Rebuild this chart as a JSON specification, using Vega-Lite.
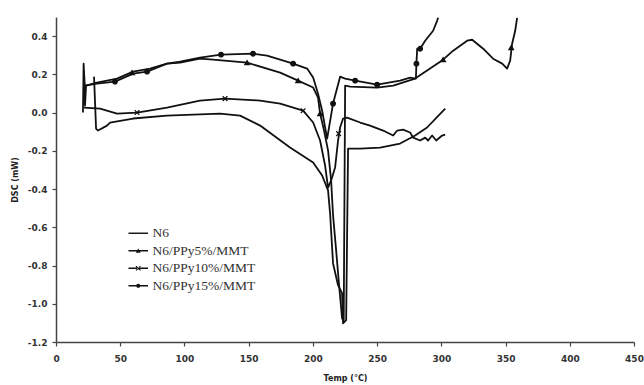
{
  "$schema": "https://vega.github.io/schema/vega-lite/v6.json",
  "width": 578,
  "height": 325,
  "autosize": "none",
  "padding": {"left": 56, "top": 17, "right": 10, "bottom": 43},
  "background": "white",
  "config": {"view": {"stroke": null}},
  "datasets": {
    "curves": [
      {"series": "N6", "T": 29.6, "V": 0.188},
      {"series": "N6", "T": 31.2, "V": -0.084},
      {"series": "N6", "T": 32.7, "V": -0.094},
      {"series": "N6", "T": 39.7, "V": -0.068},
      {"series": "N6", "T": 42.1, "V": -0.052},
      {"series": "N6", "T": 60.0, "V": -0.031},
      {"series": "N6", "T": 86.4, "V": -0.016},
      {"series": "N6", "T": 127.7, "V": -0.005},
      {"series": "N6", "T": 143.3, "V": -0.016},
      {"series": "N6", "T": 158.9, "V": -0.068},
      {"series": "N6", "T": 182.2, "V": -0.183},
      {"series": "N6", "T": 200.2, "V": -0.261},
      {"series": "N6", "T": 207.2, "V": -0.329},
      {"series": "N6", "T": 211.8, "V": -0.407},
      {"series": "N6", "T": 213.4, "V": -0.528},
      {"series": "N6", "T": 215.7, "V": -0.789},
      {"series": "N6", "T": 219.6, "V": -0.903},
      {"series": "N6", "T": 222.7, "V": -0.945},
      {"series": "N6", "T": 223.5, "V": -1.102},
      {"series": "N6", "T": 225.9, "V": -1.086},
      {"series": "N6", "T": 227.4, "V": -0.188},
      {"series": "N6", "T": 236.8, "V": -0.188},
      {"series": "N6", "T": 252.3, "V": -0.183},
      {"series": "N6", "T": 267.9, "V": -0.162},
      {"series": "N6", "T": 279.6, "V": -0.120},
      {"series": "N6", "T": 288.9, "V": -0.078},
      {"series": "N6", "T": 303.0, "V": 0.021},

      {"series": "N6/PPy5%/MMT", "T": 21.8, "V": 0.219},
      {"series": "N6/PPy5%/MMT", "T": 22.6, "V": 0.037},
      {"series": "N6/PPy5%/MMT", "T": 23.4, "V": 0.141},
      {"series": "N6/PPy5%/MMT", "T": 31.9, "V": 0.157},
      {"series": "N6/PPy5%/MMT", "T": 47.5, "V": 0.178},
      {"series": "N6/PPy5%/MMT", "T": 60.0, "V": 0.214},
      {"series": "N6/PPy5%/MMT", "T": 73.2, "V": 0.230},
      {"series": "N6/PPy5%/MMT", "T": 86.4, "V": 0.256},
      {"series": "N6/PPy5%/MMT", "T": 96.6, "V": 0.261},
      {"series": "N6/PPy5%/MMT", "T": 112.1, "V": 0.282},
      {"series": "N6/PPy5%/MMT", "T": 122.3, "V": 0.277},
      {"series": "N6/PPy5%/MMT", "T": 148.8, "V": 0.261},
      {"series": "N6/PPy5%/MMT", "T": 174.5, "V": 0.209},
      {"series": "N6/PPy5%/MMT", "T": 188.5, "V": 0.167},
      {"series": "N6/PPy5%/MMT", "T": 200.2, "V": 0.131},
      {"series": "N6/PPy5%/MMT", "T": 204.0, "V": 0.078},
      {"series": "N6/PPy5%/MMT", "T": 205.6, "V": -0.005},
      {"series": "N6/PPy5%/MMT", "T": 208.7, "V": -0.094},
      {"series": "N6/PPy5%/MMT", "T": 211.8, "V": -0.198},
      {"series": "N6/PPy5%/MMT", "T": 214.2, "V": -0.355},
      {"series": "N6/PPy5%/MMT", "T": 215.7, "V": -0.538},
      {"series": "N6/PPy5%/MMT", "T": 218.1, "V": -0.721},
      {"series": "N6/PPy5%/MMT", "T": 220.4, "V": -0.903},
      {"series": "N6/PPy5%/MMT", "T": 222.7, "V": -1.076},
      {"series": "N6/PPy5%/MMT", "T": 224.0, "V": -1.090},
      {"series": "N6/PPy5%/MMT", "T": 225.1, "V": 0.141},
      {"series": "N6/PPy5%/MMT", "T": 229.0, "V": 0.136},
      {"series": "N6/PPy5%/MMT", "T": 250.0, "V": 0.131},
      {"series": "N6/PPy5%/MMT", "T": 262.5, "V": 0.141},
      {"series": "N6/PPy5%/MMT", "T": 279.6, "V": 0.178},
      {"series": "N6/PPy5%/MMT", "T": 301.4, "V": 0.277},
      {"series": "N6/PPy5%/MMT", "T": 309.2, "V": 0.324},
      {"series": "N6/PPy5%/MMT", "T": 320.1, "V": 0.376},
      {"series": "N6/PPy5%/MMT", "T": 324.0, "V": 0.381},
      {"series": "N6/PPy5%/MMT", "T": 332.6, "V": 0.334},
      {"series": "N6/PPy5%/MMT", "T": 340.3, "V": 0.282},
      {"series": "N6/PPy5%/MMT", "T": 347.4, "V": 0.256},
      {"series": "N6/PPy5%/MMT", "T": 351.2, "V": 0.230},
      {"series": "N6/PPy5%/MMT", "T": 353.6, "V": 0.272},
      {"series": "N6/PPy5%/MMT", "T": 355.1, "V": 0.360},
      {"series": "N6/PPy5%/MMT", "T": 357.5, "V": 0.428},
      {"series": "N6/PPy5%/MMT", "T": 359.0, "V": 0.496},

      {"series": "N6/PPy10%/MMT", "T": 21.8, "V": 0.026},
      {"series": "N6/PPy10%/MMT", "T": 34.3, "V": 0.021},
      {"series": "N6/PPy10%/MMT", "T": 47.5, "V": -0.005},
      {"series": "N6/PPy10%/MMT", "T": 63.1, "V": 0.0},
      {"series": "N6/PPy10%/MMT", "T": 86.4, "V": 0.026},
      {"series": "N6/PPy10%/MMT", "T": 112.1, "V": 0.063},
      {"series": "N6/PPy10%/MMT", "T": 131.6, "V": 0.073},
      {"series": "N6/PPy10%/MMT", "T": 158.9, "V": 0.063},
      {"series": "N6/PPy10%/MMT", "T": 174.5, "V": 0.047},
      {"series": "N6/PPy10%/MMT", "T": 192.4, "V": 0.010},
      {"series": "N6/PPy10%/MMT", "T": 200.2, "V": -0.052},
      {"series": "N6/PPy10%/MMT", "T": 205.6, "V": -0.146},
      {"series": "N6/PPy10%/MMT", "T": 209.5, "V": -0.277},
      {"series": "N6/PPy10%/MMT", "T": 211.8, "V": -0.392},
      {"series": "N6/PPy10%/MMT", "T": 214.2, "V": -0.355},
      {"series": "N6/PPy10%/MMT", "T": 217.3, "V": -0.287},
      {"series": "N6/PPy10%/MMT", "T": 219.6, "V": -0.146},
      {"series": "N6/PPy10%/MMT", "T": 221.2, "V": -0.078},
      {"series": "N6/PPy10%/MMT", "T": 223.5, "V": -0.031},
      {"series": "N6/PPy10%/MMT", "T": 226.6, "V": -0.026},
      {"series": "N6/PPy10%/MMT", "T": 236.8, "V": -0.052},
      {"series": "N6/PPy10%/MMT", "T": 244.5, "V": -0.068},
      {"series": "N6/PPy10%/MMT", "T": 254.7, "V": -0.094},
      {"series": "N6/PPy10%/MMT", "T": 262.5, "V": -0.120},
      {"series": "N6/PPy10%/MMT", "T": 265.6, "V": -0.094},
      {"series": "N6/PPy10%/MMT", "T": 270.2, "V": -0.089},
      {"series": "N6/PPy10%/MMT", "T": 275.7, "V": -0.104},
      {"series": "N6/PPy10%/MMT", "T": 278.0, "V": -0.131},
      {"series": "N6/PPy10%/MMT", "T": 283.5, "V": -0.146},
      {"series": "N6/PPy10%/MMT", "T": 287.4, "V": -0.131},
      {"series": "N6/PPy10%/MMT", "T": 289.7, "V": -0.146},
      {"series": "N6/PPy10%/MMT", "T": 292.8, "V": -0.120},
      {"series": "N6/PPy10%/MMT", "T": 296.0, "V": -0.146},
      {"series": "N6/PPy10%/MMT", "T": 300.6, "V": -0.120},
      {"series": "N6/PPy10%/MMT", "T": 303.0, "V": -0.115},

      {"series": "N6/PPy15%/MMT", "T": 21.0, "V": 0.0},
      {"series": "N6/PPy15%/MMT", "T": 21.5, "V": 0.256},
      {"series": "N6/PPy15%/MMT", "T": 22.3, "V": 0.141},
      {"series": "N6/PPy15%/MMT", "T": 31.9, "V": 0.151},
      {"series": "N6/PPy15%/MMT", "T": 45.9, "V": 0.162},
      {"series": "N6/PPy15%/MMT", "T": 60.0, "V": 0.204},
      {"series": "N6/PPy15%/MMT", "T": 70.9, "V": 0.214},
      {"series": "N6/PPy15%/MMT", "T": 86.4, "V": 0.256},
      {"series": "N6/PPy15%/MMT", "T": 96.6, "V": 0.266},
      {"series": "N6/PPy15%/MMT", "T": 112.1, "V": 0.287},
      {"series": "N6/PPy15%/MMT", "T": 128.5, "V": 0.303},
      {"series": "N6/PPy15%/MMT", "T": 153.4, "V": 0.308},
      {"series": "N6/PPy15%/MMT", "T": 164.3, "V": 0.298},
      {"series": "N6/PPy15%/MMT", "T": 174.5, "V": 0.277},
      {"series": "N6/PPy15%/MMT", "T": 184.6, "V": 0.256},
      {"series": "N6/PPy15%/MMT", "T": 195.5, "V": 0.230},
      {"series": "N6/PPy15%/MMT", "T": 200.2, "V": 0.183},
      {"series": "N6/PPy15%/MMT", "T": 204.0, "V": 0.099},
      {"series": "N6/PPy15%/MMT", "T": 207.2, "V": 0.010},
      {"series": "N6/PPy15%/MMT", "T": 211.1, "V": -0.136},
      {"series": "N6/PPy15%/MMT", "T": 215.7, "V": 0.047},
      {"series": "N6/PPy15%/MMT", "T": 221.2, "V": 0.188},
      {"series": "N6/PPy15%/MMT", "T": 225.1, "V": 0.178},
      {"series": "N6/PPy15%/MMT", "T": 232.9, "V": 0.167},
      {"series": "N6/PPy15%/MMT", "T": 250.0, "V": 0.146},
      {"series": "N6/PPy15%/MMT", "T": 267.9, "V": 0.167},
      {"series": "N6/PPy15%/MMT", "T": 275.7, "V": 0.183},
      {"series": "N6/PPy15%/MMT", "T": 280.2, "V": 0.178},
      {"series": "N6/PPy15%/MMT", "T": 280.6, "V": 0.256},
      {"series": "N6/PPy15%/MMT", "T": 281.2, "V": 0.334},
      {"series": "N6/PPy15%/MMT", "T": 283.5, "V": 0.334},
      {"series": "N6/PPy15%/MMT", "T": 287.4, "V": 0.376},
      {"series": "N6/PPy15%/MMT", "T": 293.6, "V": 0.428},
      {"series": "N6/PPy15%/MMT", "T": 296.7, "V": 0.480},
      {"series": "N6/PPy15%/MMT", "T": 297.5, "V": 0.496}
    ],
    "markers": [
      {"series": "N6/PPy5%/MMT", "T": 59.2, "V": 0.209},
      {"series": "N6/PPy5%/MMT", "T": 148.8, "V": 0.261},
      {"series": "N6/PPy5%/MMT", "T": 188.5, "V": 0.167},
      {"series": "N6/PPy5%/MMT", "T": 205.6, "V": -0.005},
      {"series": "N6/PPy5%/MMT", "T": 301.4, "V": 0.277},
      {"series": "N6/PPy5%/MMT", "T": 354.4, "V": 0.340},
      {"series": "N6/PPy10%/MMT", "T": 63.1, "V": 0.0},
      {"series": "N6/PPy10%/MMT", "T": 131.6, "V": 0.073},
      {"series": "N6/PPy10%/MMT", "T": 192.4, "V": 0.010},
      {"series": "N6/PPy10%/MMT", "T": 220.0, "V": -0.110},
      {"series": "N6/PPy15%/MMT", "T": 45.9, "V": 0.162},
      {"series": "N6/PPy15%/MMT", "T": 70.9, "V": 0.214},
      {"series": "N6/PPy15%/MMT", "T": 128.5, "V": 0.303},
      {"series": "N6/PPy15%/MMT", "T": 153.4, "V": 0.308},
      {"series": "N6/PPy15%/MMT", "T": 184.6, "V": 0.256},
      {"series": "N6/PPy15%/MMT", "T": 215.7, "V": 0.047},
      {"series": "N6/PPy15%/MMT", "T": 232.9, "V": 0.167},
      {"series": "N6/PPy15%/MMT", "T": 250.0, "V": 0.146},
      {"series": "N6/PPy15%/MMT", "T": 280.6, "V": 0.256},
      {"series": "N6/PPy15%/MMT", "T": 283.5, "V": 0.334}
    ]
  },
  "encoding": {
    "x": {
      "field": "T", "type": "quantitative",
      "scale": {"domain": [0, 450], "nice": false, "zero": false},
      "axis": {
        "title": "Temp (°C)",
        "values": [0, 50, 100, 150, 200, 250, 300, 350, 400, 450],
        "grid": false, "tickSize": 4, "labelPadding": 8,
        "labelFont": "DejaVu Sans", "labelFontWeight": "bold", "labelFontSize": 9, "labelColor": "#333",
        "titleFont": "DejaVu Sans", "titleFontWeight": "bold", "titleFontSize": 8, "titleColor": "#222", "titlePadding": 11,
        "domainColor": "#444", "domainWidth": 1.5, "tickColor": "#444", "tickWidth": 1.2,
        "labelOverlap": false, "labelFlush": false
      }
    },
    "y": {
      "field": "V", "type": "quantitative",
      "scale": {"domain": [-1.2, 0.5], "nice": false, "zero": false},
      "axis": {
        "title": "DSC (mW)",
        "values": [-1.2, -1, -0.8, -0.6, -0.4, -0.2, 0, 0.2, 0.4],
        "labelExpr": "replace(datum.label, '−', '-')",
        "grid": false, "tickSize": 4, "labelPadding": 5,
        "labelFont": "DejaVu Sans", "labelFontWeight": "bold", "labelFontSize": 9, "labelColor": "#333",
        "titleFont": "DejaVu Sans", "titleFontWeight": "bold", "titleFontSize": 8, "titleColor": "#222", "titlePadding": 8,
        "domainColor": "#444", "domainWidth": 1.5, "tickColor": "#444", "tickWidth": 1.2,
        "labelOverlap": false, "labelFlush": false
      }
    }
  },
  "layer": [
    {
      "data": {"name": "curves"},
      "mark": {"type": "line", "color": "#111", "strokeWidth": 1.8, "clip": true, "strokeJoin": "round"},
      "encoding": {"detail": {"field": "series", "type": "nominal"}}
    },
    {
      "data": {"name": "markers"},
      "mark": {"type": "point", "filled": true, "fill": "#111", "stroke": "#111", "strokeWidth": 1.2, "size": 22, "opacity": 1},
      "encoding": {
        "shape": {
          "field": "series", "type": "nominal",
          "scale": {
            "domain": ["N6/PPy5%/MMT", "N6/PPy10%/MMT", "N6/PPy15%/MMT"],
            "range": ["triangle-up", "M-1,-1L1,1M-1,1L1,-1", "circle"]
          },
          "legend": null
        }
      }
    },
    {
      "data": {"name": "markers"},
      "transform": [{"filter": "false"}],
      "mark": {"type": "point", "filled": true, "fill": "#111", "size": 169, "opacity": 1},
      "encoding": {
        "shape": {
          "field": "series", "type": "nominal",
          "scale": {
            "domain": ["N6", "N6/PPy5%/MMT", "N6/PPy10%/MMT", "N6/PPy15%/MMT"],
            "range": [
              "M-1.5,-0.11H1.5V0.11H-1.5Z",
              "M-1.5,-0.11H1.5V0.11H-1.5ZM-0.38,0.3L0,-0.36L0.38,0.3Z",
              "M-1.5,-0.11H1.5V0.11H-1.5ZM-0.4,-0.28L-0.28,-0.4L0.4,0.28L0.28,0.4ZM-0.4,0.28L-0.28,0.4L0.4,-0.28L0.28,-0.4Z",
              "M-1.5,-0.11H-0.3V0.11H-1.5ZM0.3,-0.11H1.5V0.11H0.3ZM-0.32,0A0.32,0.32 0 1,1 0.32,0A0.32,0.32 0 1,1 -0.32,0Z"
            ]
          },
          "legend": {
            "title": null,
            "orient": "none",
            "legendX": 75.5,
            "legendY": 209.5,
            "padding": 0,
            "symbolSize": 169,
            "symbolOffset": 0,
            "symbolStrokeWidth": 0,
            "symbolFillColor": "#111",
            "symbolOpacity": 1,
            "labelFont": "Liberation Serif",
            "labelFontSize": 13.5,
            "labelColor": "#333",
            "labelOffset": 7.5,
            "rowPadding": 2.5,
            "labelLimit": 300
          }
        }
      }
    }
  ],
  "resolve": {"scale": {"shape": "independent"}, "legend": {"shape": "independent"}}
}
